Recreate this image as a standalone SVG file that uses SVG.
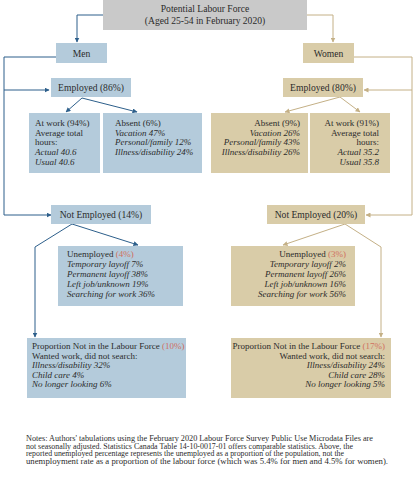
<svg xmlns="http://www.w3.org/2000/svg" width="416" height="480" viewBox="0 0 416 480">
<defs>
<marker id="ab" viewBox="0 0 10 10" refX="9" refY="5" markerWidth="5" markerHeight="5" orient="auto"><path d="M0,0 L10,5 L0,10 z" fill="#2d5f8b"/></marker>
<marker id="aw" viewBox="0 0 10 10" refX="9" refY="5" markerWidth="5" markerHeight="5" orient="auto"><path d="M0,0 L10,5 L0,10 z" fill="#c4b086"/></marker>
</defs>
<style>
text{font-family:"Liberation Serif","Times New Roman",serif;fill:#2b2b2b;font-size:9px}
.t{font-size:9.6px;text-anchor:middle}
.i{font-style:italic}
.r{fill:#d0705f}
.e{text-anchor:end}
.bl{fill:#b4cbdb}
.be{fill:#d9cca8}
.cb{fill:none;stroke:#2d5f8b;stroke-width:1}
.cw{fill:none;stroke:#c4b086;stroke-width:1}
.n{font-size:7.3px}
</style>
<rect width="416" height="480" fill="#ffffff"/>
<g id="connectors">
<path class="cb" d="M103,15 H77 V42" marker-end="url(#ab)"/>
<path class="cb" d="M56,57 H4 V215 H51" marker-end="url(#ab)"/>
<path class="cb" d="M4,90 H49" marker-end="url(#ab)"/>
<path class="cb" d="M82,98 L66,112" marker-end="url(#ab)"/>
<path class="cb" d="M82,98 L137,112" marker-end="url(#ab)"/>
<path class="cb" d="M72,224 L138,245" marker-end="url(#ab)"/>
<path class="cb" d="M72,224 L35,247 V337" marker-end="url(#ab)"/>
<path class="cw" d="M307,15 H333 V42" marker-end="url(#aw)"/>
<path class="cw" d="M354,57 H412 V215 H366" marker-end="url(#aw)"/>
<path class="cw" d="M412,90 H364" marker-end="url(#aw)"/>
<path class="cw" d="M340,97 L285,112" marker-end="url(#aw)"/>
<path class="cw" d="M340,97 L360,112" marker-end="url(#aw)"/>
<path class="cw" d="M345,224 L283,245" marker-end="url(#aw)"/>
<path class="cw" d="M345,224 L381,247 V337" marker-end="url(#aw)"/>
</g>
<g id="top">
<rect x="103" y="0" width="204" height="30" fill="#c9c9c9"/>
<text class="t" x="205" y="12">Potential Labour Force</text>
<text class="t" x="205" y="24">(Aged 25-54 in February 2020)</text>
</g>
<g id="men">
<rect class="bl" x="56" y="43" width="51" height="20"/>
<text class="t" x="81.5" y="56.5">Men</text>
</g>
<g id="women">
<rect class="be" x="303" y="43" width="51" height="20"/>
<text class="t" x="328.5" y="56.5">Women</text>
</g>
<g id="men-employed">
<rect class="bl" x="51" y="78" width="80" height="19"/>
<text class="t" x="91" y="91">Employed (86%)</text>
</g>
<g id="women-employed">
<rect class="be" x="283" y="78" width="80" height="19"/>
<text class="t" x="323" y="91">Employed (80%)</text>
</g>
<g id="men-atwork">
<rect class="bl" x="29" y="113" width="71" height="60"/>
<text x="35" y="126">At work (94%)</text>
<text x="35" y="135.7">Average total</text>
<text x="35" y="145.4">hours:</text>
<text class="i" x="35" y="155.1">Actual 40.6</text>
<text class="i" x="35" y="164.8">Usual 40.6</text>
</g>
<g id="men-absent">
<rect class="bl" x="103" y="113" width="99" height="60"/>
<text x="115" y="126">Absent (6%)</text>
<text class="i" x="115" y="135.7">Vacation 47%</text>
<text class="i" x="115" y="145.4">Personal/family 12%</text>
<text class="i" x="115" y="155.1">Illness/disability 24%</text>
</g>
<g id="women-absent">
<rect class="be" x="211" y="113" width="97" height="60"/>
<text class="e" x="300" y="126">Absent (9%)</text>
<text class="e i" x="300" y="135.7">Vacation 26%</text>
<text class="e i" x="300" y="145.4">Personal/family 43%</text>
<text class="e i" x="300" y="155.1">Illness/disability 26%</text>
</g>
<g id="women-atwork">
<rect class="be" x="310" y="113" width="80" height="60"/>
<text class="e" x="379" y="126">At work (91%)</text>
<text class="e" x="379" y="135.7">Average total</text>
<text class="e" x="379" y="145.4">hours:</text>
<text class="e i" x="379" y="155.1">Actual 35.2</text>
<text class="e i" x="379" y="164.8">Usual 35.8</text>
</g>
<g id="men-notemployed">
<rect class="bl" x="51" y="205" width="100" height="19"/>
<text class="t" x="101" y="218">Not Employed (14%)</text>
</g>
<g id="women-notemployed">
<rect class="be" x="267" y="205" width="98" height="19"/>
<text class="t" x="316" y="218">Not  Employed (20%)</text>
</g>
<g id="men-unemployed">
<rect class="bl" x="58" y="246" width="125" height="60"/>
<text x="67" y="257">Unemployed <tspan class="r">(4%)</tspan></text>
<text class="i" x="67" y="267">Temporary layoff 7%</text>
<text class="i" x="67" y="277">Permanent layoff 38%</text>
<text class="i" x="67" y="287">Left job/unknown 19%</text>
<text class="i" x="67" y="297">Searching for work 36%</text>
</g>
<g id="women-unemployed">
<rect class="be" x="231" y="246" width="124" height="60"/>
<text class="e" x="346" y="257">Unemployed <tspan class="r">(3%)</tspan></text>
<text class="e i" x="346" y="267">Temporary layoff 2%</text>
<text class="e i" x="346" y="277">Permanent layoff 26%</text>
<text class="e i" x="346" y="287">Left job/unknown 16%</text>
<text class="e i" x="346" y="297">Searching for work 56%</text>
</g>
<g id="men-nilf">
<rect class="bl" x="27" y="338" width="159" height="60"/>
<text x="32" y="349">Proportion Not in the Labour Force <tspan class="r">(10%)</tspan></text>
<text x="32" y="358.5">Wanted work, did not search:</text>
<text class="i" x="32" y="368">Illness/disability 32%</text>
<text class="i" x="32" y="377.5">Child care 4%</text>
<text class="i" x="32" y="387">No longer looking 6%</text>
</g>
<g id="women-nilf">
<rect class="be" x="231" y="338" width="160" height="60"/>
<text class="e" x="385" y="349">Proportion Not in the Labour Force <tspan class="r">(17%)</tspan></text>
<text class="e" x="385" y="358.5">Wanted work, did not search:</text>
<text class="e i" x="385" y="368">Illness/disability 24%</text>
<text class="e i" x="385" y="377.5">Child care 28%</text>
<text class="e i" x="385" y="387">No longer looking 5%</text>
</g>
<g id="notes">
<text class="n" x="26" y="441" textLength="347" lengthAdjust="spacingAndGlyphs">Notes: Authors' tabulations using the February 2020 Labour Force Survey Public Use Microdata Files are</text>
<text class="n" x="26" y="448.7" textLength="327" lengthAdjust="spacingAndGlyphs">not seasonally adjusted. Statistics Canada Table 14-10-0017-01 offers comparable statistics. Above, the</text>
<text class="n" x="26" y="456.4" textLength="318" lengthAdjust="spacingAndGlyphs">reported unemployed percentage represents the unemployed as a proportion of the population, not the</text>
<text class="n" x="26" y="464.1" textLength="362" lengthAdjust="spacingAndGlyphs">unemployment rate as a proportion of the labour force (which was 5.4% for men and 4.5% for women).</text>
</g>
</svg>
